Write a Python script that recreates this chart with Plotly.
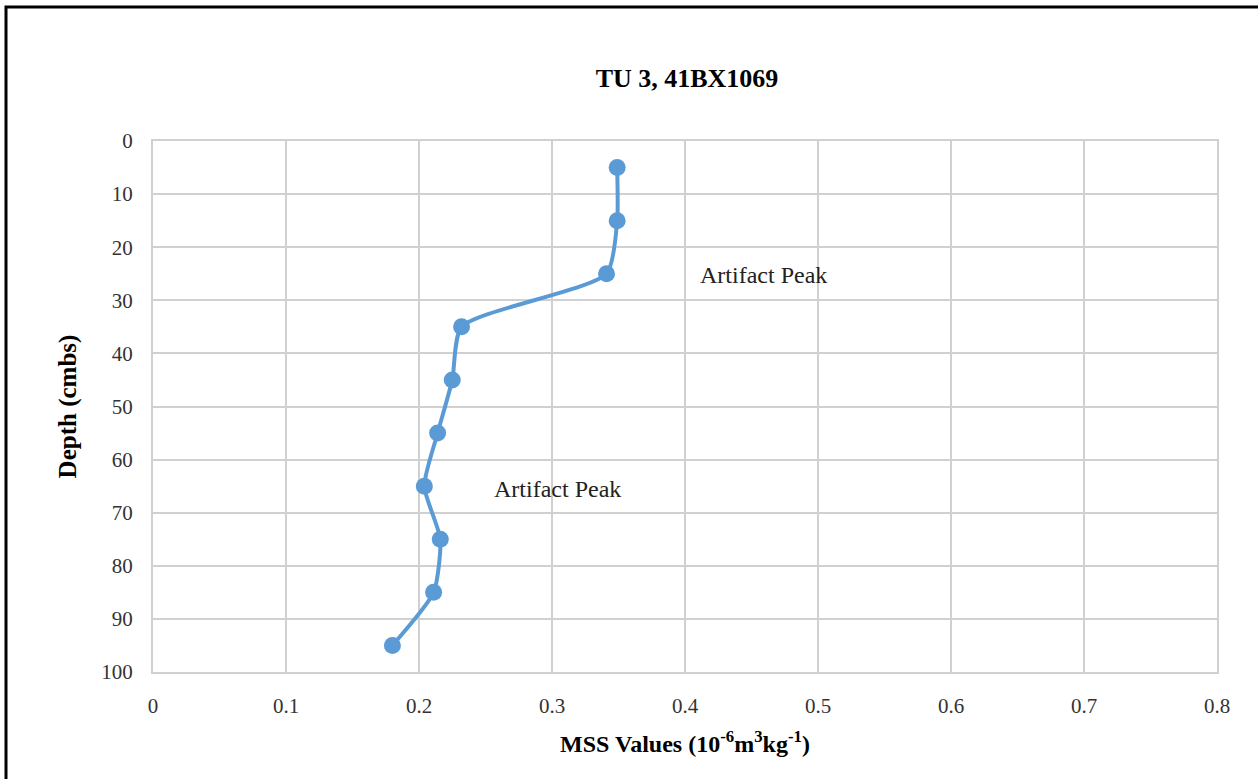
import plotly.graph_objects as go

depth = [5, 15, 25, 35, 45, 55, 65, 75, 85, 95]
mss = [0.349, 0.349, 0.341, 0.232, 0.225, 0.214, 0.204, 0.216, 0.211, 0.180]
annot_x = [0.459, 0.304]
annot_y = [25.2, 65.5]
annot_text = ["Artifact Peak", "Artifact Peak"]

blue = "#5B9BD5"
serif = "Liberation Serif, Times New Roman, serif"

fig = go.Figure()
fig.add_trace(go.Scatter(
    x=mss, y=depth, mode="lines+markers",
    line=dict(color=blue, width=4, shape="spline", smoothing=0.6),
    marker=dict(color=blue, size=17),
    showlegend=False,
))

for ax, ay, t in zip(annot_x, annot_y, annot_text):
    fig.add_annotation(x=ax, y=ay, text=t, showarrow=False,
                       font=dict(family=serif, size=24, color="#222"))

L, R, T, B = 153, 41, 141, 107
W, H = 1258, 779
pw, ph = W - L - R, H - T - B
def px2x(p):
    return (p - L) / pw
def py2y(p):
    return (H - B - p) / ph

fig.add_shape(type="rect", xref="paper", yref="paper",
              x0=px2x(6), x1=px2x(1275), y0=py2y(800), y1=py2y(7),
              line=dict(color="black", width=3), fillcolor="rgba(0,0,0,0)", layer="above")

fig.update_layout(
    width=W, height=H,
    margin=dict(l=L, r=R, t=T, b=B),
    paper_bgcolor="white", plot_bgcolor="white",
    title=dict(text="<b>TU 3, 41BX1069</b>", x=(687) / W, xanchor="center",
               y=1 - 78 / H, yanchor="middle",
               font=dict(family=serif, size=26, color="black")),
    font=dict(family=serif, size=21, color="#333"),
    xaxis=dict(range=[0, 0.8], dtick=0.1, tick0=0, showgrid=True,
               gridcolor="#d0d0d0", gridwidth=2, zeroline=False,
               showline=True, linecolor="#d0d0d0", linewidth=2, mirror=True,
               ticks="", ticklabelstandoff=14,
               title=dict(text="<b>MSS Values (10<sup>-6</sup>m<sup>3</sup>kg<sup>-1</sup>)</b>",
                          font=dict(family=serif, size=24, color="black"), standoff=18)),
    yaxis=dict(range=[100, 0], dtick=10, tick0=0, showgrid=True,
               gridcolor="#d0d0d0", gridwidth=2, zeroline=False,
               showline=True, linecolor="#d0d0d0", linewidth=2, mirror=True,
               ticks="", ticklabelstandoff=14,
               title=dict(text="<b>Depth (cmbs)</b>",
                          font=dict(family=serif, size=25, color="black"), standoff=18)),
)

fig.write_html("out.html")
